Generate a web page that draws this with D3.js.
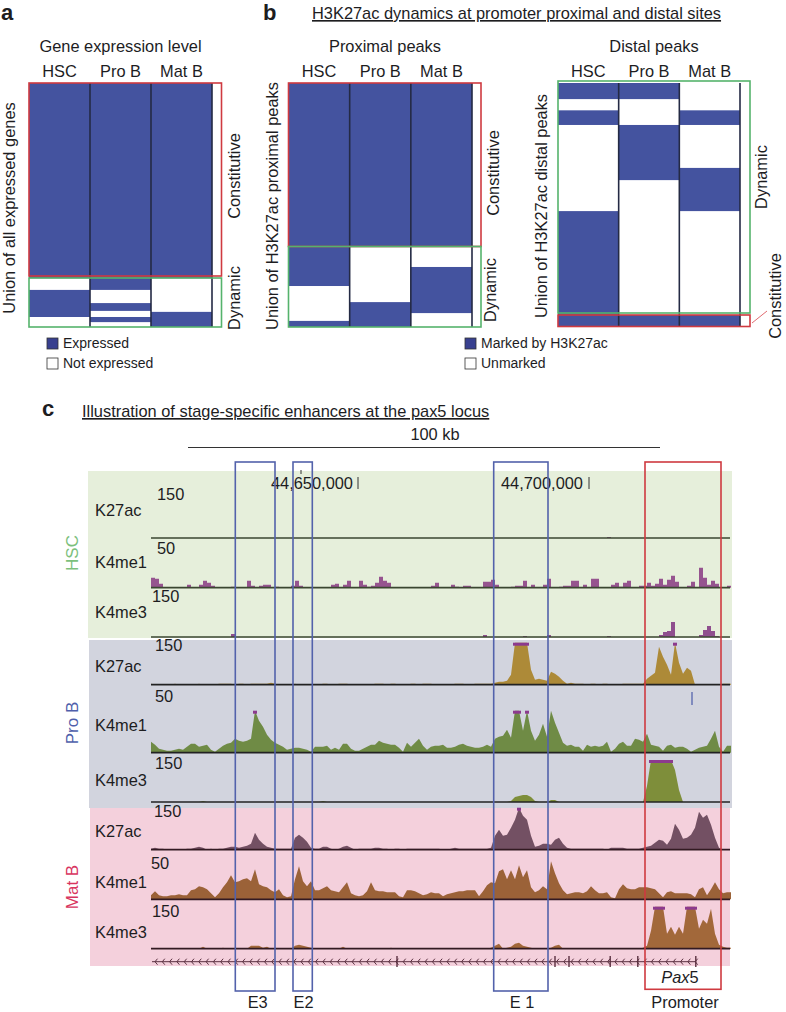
<!DOCTYPE html>
<html><head><meta charset="utf-8">
<script src="https://cdn.jsdelivr.net/npm/d3@7"></script>
<style>html,body{margin:0;padding:0;background:#fff}svg{display:block}text{font-family:"Liberation Sans",Arial,sans-serif;fill:#1d1d1f}</style>
</head><body><svg id="c" width="786" height="1012"></svg>
<script>
const stages = ["HSC","Pro B","Mat B"];
// marked intervals, percent of the matrix height, per stage
const exprHSC = [[0,80],[84.8,95.9]];
const exprProB = [[0,84.8],[90.2,93.4],[95.9,98]];
const exprMatB = [[0,80],[93.8,100]];
const proxHSC = [[0,83.2],[97.5,100]];
const proxProB = [[0,67.2],[89.8,100]];
const proxMatB = [[0,67.2],[75.4,94.3]];
const distHSC = [[0,6.6],[11.2,17.2],[52.5,100]];
const distProB = [[0,6.6],[17.2,39.8],[95.1,100]];
const distMatB = [[11.2,17.2],[34.8,52.5],[95.1,100]];

// signal per genome bin, read on a 0-42 grid (42 = top of the track; above it the track is capped)
const hscK27ac = [
0,0,0,0,0,0,0,0,0,0, 0,0,0,0,0,0,0,0,0,0, 0,0,0,0,0,0,0,0,0,0, 0,0,0,0,0,0,0,0,0,0,
0,0,0,0,0,0,0,0,0,0, 0,0,0,0,0,0,0,0,0,0, 0,0,0,0,0,0,0,0,0,0, 0,0,0,0,0,0,0,0,0,0,
0,0,0,0,0,0,0,0,0,0, 0,0,0,0,0,0,0,0,0,0, 0,0,0,0,0,0,0,0,0,0, 0,0,0,0,1,0,0,0,0,0,
0,0,0,0,0,0,0,0,0,0, 0,0,0,0,0,0,0,0,0,0, 0,0,0,0,0];
const hscK4me1 = [
10,9,4,0,0,0,0,0,0,3, 0,0,3,7,5,2,0,0,0,0, 1,0,0,0,7,2,0,2,3,3, 0,1,0,0,0,2,7,2,0,0,
0,0,0,0,0,3,4,0,3,7, 0,0,7,3,1,2,5,11,7,5, 0,0,0,0,0,0,0,0,0,0, 2,5,0,0,0,3,1,0,2,2,
0,0,0,6,6,8,3,0,0,0, 1,2,2,7,0,3,0,0,3,9, 0,0,1,2,2,7,7,0,3,0, 9,9,0,0,0,3,5,1,5,7,
0,0,2,2,5,2,4,9,3,8, 12,6,0,0,2,6,0,20,10,3, 7,4,0,0,2];
const hscK4me3 = [
0,0,0,0,0,0,0,0,0,0, 0,0,0,0,0,0,0,0,0,0, 3,0,0,0,0,0,0,0,0,0, 0,0,0,0,0,0,0,0,0,0,
0,0,0,0,0,0,0,0,0,0, 0,0,0,0,0,0,0,0,0,0, 0,0,0,0,0,0,0,0,0,0, 0,0,0,0,0,0,0,0,0,0,
0,0,0,2,0,0,0,0,0,0, 0,0,0,1,0,0,0,0,0,2, 0,0,0,0,0,0,0,0,0,0, 0,0,0,0,1,0,0,0,0,0,
0,0,0,0,0,0,0,2,5,6, 15,0,0,0,0,0,0,2,7,11, 6,1,0,0,0];
const proK27ac = [
1,0,0,0,0,0,1,0,0,0, 0,0,1,0,0,0,0,1,1,1, 1,0,1,1,0,1,1,1,1,1, 2,1,0,0,0,0,1,0,0,0,
0,0,0,1,1,0,0,1,1,1, 0,0,0,0,0,0,1,1,1,0, 1,1,0,0,0,1,1,0,1,1, 1,0,0,0,0,0,1,1,1,0,
0,1,1,1,1,1,2,3,3,4, 10,43,43,43,43,15,5,6,5,4, 13,11,8,4,1,2,1,1,1,0, 1,1,0,1,1,0,0,0,1,1,
1,1,1,1,6,9,12,38,28,20, 10,43,22,11,17,14,0,0,0,0, 0,0,0,1,1];
const proK4me1 = [
11,8,4,3,2,2,3,4,3,6, 9,9,6,7,8,3,1,4,7,9, 10,14,12,11,12,14,43,32,26,18, 13,10,8,6,3,4,5,5,4,3,
1,6,6,6,7,3,5,3,9,9, 4,2,2,4,6,8,8,12,10,9, 8,8,5,1,10,6,10,14,7,3, 6,7,7,8,5,5,6,8,9,7,
6,5,5,6,8,6,14,16,17,23, 15,43,43,22,43,22,12,18,29,16, 42,30,20,10,7,8,6,6,2,8, 6,7,6,7,11,1,4,9,11,7,
7,14,13,11,19,8,7,6,2,7, 8,5,6,6,4,1,3,5,6,7, 14,22,6,1,7];
const proK4me3 = [
0,0,0,0,0,0,0,0,0,0, 0,0,0,1,0,0,0,0,0,0, 0,0,0,0,0,0,0,0,0,0, 0,0,0,0,0,0,0,0,0,0,
0,0,0,1,0,0,0,0,0,0, 0,0,0,0,0,0,0,0,0,0, 0,0,0,0,0,0,0,0,0,0, 0,0,0,0,0,0,0,0,0,0,
0,0,0,0,0,0,0,0,0,0, 1,5,6,7,7,5,1,0,0,0, 2,2,0,0,0,0,0,0,0,0, 0,0,0,0,0,0,0,0,0,0,
0,0,0,0,16,43,43,43,43,43, 43,32,12,0,0,0,0,0,0,0, 0,0,0,0,0];
const matK27ac = [
1,2,1,1,0,0,0,0,0,1, 1,2,3,2,0,1,0,1,1,2, 3,3,2,3,4,6,17,10,6,3, 2,1,1,1,1,1,12,15,12,8,
2,1,1,3,3,1,0,1,3,4, 2,0,1,1,1,1,2,2,1,1, 0,1,1,0,1,1,1,1,1,1, 1,1,1,0,0,1,2,1,1,1,
1,1,1,1,1,2,14,20,14,15, 22,30,43,34,30,14,3,4,6,6, 5,10,12,6,2,1,1,1,1,1, 1,1,1,1,0,2,2,2,2,1,
1,1,1,2,3,4,7,10,9,5, 11,26,20,11,12,15,22,38,32,35, 25,12,2,0,0];
const matK4me1 = [
4,8,4,3,3,4,4,5,4,4, 9,10,13,12,10,6,2,6,12,17, 24,17,18,20,21,18,30,15,13,12, 9,7,10,4,2,3,20,33,18,13,
18,9,9,11,13,9,8,7,12,17, 6,4,3,4,8,17,9,8,8,7, 7,7,3,2,9,9,8,6,4,5, 7,6,6,3,5,6,7,8,8,9,
9,9,3,8,14,17,16,28,30,20, 29,20,34,22,29,12,7,9,13,10, 38,26,16,9,5,6,7,7,6,8, 13,9,6,6,7,2,1,10,15,11,
10,10,12,12,12,11,10,6,2,7, 8,6,6,6,6,5,2,10,12,4, 10,17,10,6,7];
const matK4me3 = [
0,0,0,0,0,0,0,0,0,0, 0,0,0,2,0,0,0,0,1,0, 0,0,0,0,0,3,3,3,1,2, 0,0,0,0,0,0,3,4,3,2,
1,0,0,0,0,0,0,0,2,0, 0,0,0,0,0,0,0,0,0,0, 1,0,0,0,0,0,0,0,0,0, 0,0,0,0,0,0,0,0,0,0,
0,0,0,0,0,1,3,5,0,1, 2,5,6,3,2,1,0,0,0,0, 1,3,4,0,0,0,0,0,0,0, 0,0,0,0,0,0,0,0,0,0,
0,0,0,1,3,18,43,43,43,15, 22,14,22,15,43,43,43,20,29,25, 40,15,4,2,1];
const exonBins = [61.5,101,104.5,114.8,121.7,136.2];

const svg = d3.select("#c");
const BLUE="#44539f", DARK="#242a44", RED="#cf3a40", GREEN="#55b36c", BOXB="#5362ab";
const F=16.4;
const txt=(x,y,s,size,o={})=>{const t=svg.append("text").attr("x",x).attr("y",y).attr("font-size",size).attr("text-anchor",o.a||"start").text(s);
 if(o.b)t.attr("font-weight","bold"); if(o.c)t.style("fill",o.c); if(o.i)t.attr("font-style","italic"); if(o.u)t.attr("text-decoration","underline");
 if(o.r)t.attr("transform",`rotate(-90 ${x} ${y})`); return t;};
const box=(x0,y0,x1,y1,c,w=1.6)=>svg.append("rect").attr("x",x0).attr("y",y0).attr("width",x1-x0).attr("height",y1-y0).attr("fill","none").attr("stroke",c).attr("stroke-width",w);

function matrix(x0,x1,cols){
  const x=d3.scaleBand().domain(stages).range([x0,x1]);
  const y=d3.scaleLinear().domain([0,100]).range([83,327]);
  const g=svg.append("g");
  stages.forEach((s,i)=>{
    g.selectAll(null).data(cols[i]).join("rect").attr("x",x(s)).attr("width",x.bandwidth())
     .attr("y",d=>y(d[0])).attr("height",d=>y(d[1])-y(d[0])).attr("fill",BLUE);
    txt(x(s)+x.bandwidth()/2,77,s,F,{a:"middle"});
  });
  g.selectAll(null).data(stages.slice(1).map(s=>x(s)).concat(x1)).join("line")
   .attr("x1",d=>d).attr("x2",d=>d).attr("y1",83).attr("y2",327).attr("stroke",DARK).attr("stroke-width",1.6);
}
matrix(29,212,[exprHSC,exprProB,exprMatB]);
matrix(288.5,472,[proxHSC,proxProB,proxMatB]);
matrix(558,740,[distHSC,distProB,distMatB]);

box(29,83,221.5,276,RED); box(29,278,221.5,327,GREEN);
box(288.5,83,481,246.5,RED); box(288.5,246.5,481,327,GREEN);
box(558,81,750,313,GREEN); box(558,315,750,326.5,RED);
svg.append("line").attr("x1",752).attr("y1",323).attr("x2",767).attr("y2",311).attr("stroke","#e06a70").attr("stroke-width",1);

txt(1,20,"a",22,{b:1}); txt(263,20,"b",22,{b:1}); txt(42,416,"c",22,{b:1});
txt(120.5,52,"Gene expression level",F,{a:"middle"});
txt(385,52,"Proximal peaks",F,{a:"middle"});
txt(654,52,"Distal peaks",F,{a:"middle"});
txt(312,19,"H3K27ac dynamics at promoter proximal and distal sites",F,{u:1});
txt(82,417,"Illustration of stage-specific enhancers at the pax5 locus",F,{u:1});
txt(15,208,"Union of all expressed genes",F,{a:"middle",r:1});
txt(240,176,"Constitutive",F,{a:"middle",r:1});
txt(240,298,"Dynamic",F,{a:"middle",r:1});
txt(278,206,"Union of H3K27ac proximal peaks",F,{a:"middle",r:1});
txt(499,173,"Constitutive",F,{a:"middle",r:1});
txt(496,290,"Dynamic",F,{a:"middle",r:1});
txt(547,206,"Union of H3K27ac distal peaks",F,{a:"middle",r:1});
txt(767,177,"Dynamic",F,{a:"middle",r:1});
txt(781,296,"Constitutive",F,{a:"middle",r:1});

[[47,63,"Expressed","Not expressed"],[465,481,"Marked by H3K27ac","Unmarked"]].forEach(([a,b,l1,l2])=>{
  svg.append("rect").attr("x",a).attr("y",338).attr("width",11).attr("height",11).attr("fill","#38408f").attr("stroke","#333").attr("stroke-width",.8);
  svg.append("rect").attr("x",a).attr("y",358).attr("width",11).attr("height",11).attr("fill","#fff").attr("stroke","#333").attr("stroke-width",.8);
  txt(b,348,l1,14); txt(b,368,l2,14);
});

// panel c
[[88,471,732,638,"#e6efdb"],[89,640,732,808,"#d2d4de"],[90,808,730,966,"#f4d0dc"]].forEach(r=>
  svg.append("rect").attr("x",r[0]).attr("y",r[1]).attr("width",r[2]-r[0]).attr("height",r[3]-r[1]).attr("fill",r[4]));
const xBin=d3.scaleLinear().domain([0,145]).range([151,731]);
const tracks=[
 {v:hscK27ac,b:538,c:"#8f4f8e",l:"#3a4630",s:1},{v:hscK4me1,b:587.7,c:"#96548f",l:"#3a4630",s:1},{v:hscK4me3,b:637,c:"#8f4f8e",l:"#3a4630",s:1},
 {v:proK27ac,b:684.7,c:"#ad8a38",l:"#222"},{v:proK4me1,b:752.7,c:"#6f8b45",l:"#222"},{v:proK4me3,b:802,c:"#7e8e3a",l:"#222"},
 {v:matK27ac,b:849.7,c:"#735063",l:"#321a22"},{v:matK4me1,b:899.3,c:"#9b6238",l:"#321a22"},{v:matK4me3,b:948.7,c:"#a2683a",l:"#321a22"}];
tracks.forEach(t=>{
  const y=d3.scaleLinear().domain([0,42]).range([t.b,t.b-42]);
  const pts=t.v.concat(t.v[t.v.length-1]);
  svg.append("path").attr("fill",t.c).attr("d",d3.area().curve(t.s?d3.curveStepAfter:d3.curveLinear).x((d,i)=>xBin(i)).y0(t.b).y1(d=>y(Math.min(d,42)))(pts));
  svg.selectAll(null).data(t.v.map((d,i)=>[d,i]).filter(d=>d[0]>42)).join("rect")
    .attr("x",d=>xBin(d[1])-2).attr("width",xBin(1)-xBin(0)).attr("y",y(42)).attr("height",3).attr("fill","#8c3a8e");
  svg.append("line").attr("x1",151).attr("x2",730).attr("y1",t.b).attr("y2",t.b).attr("stroke",t.l).attr("stroke-width",1.7);
});
[["K27ac",516],["K4me1",568],["K4me3",618],["K27ac",672],["K4me1",731],["K4me3",786],["K27ac",837],["K4me1",888],["K4me3",938]]
  .forEach(d=>txt(95,d[1],d[0],F));
[[157,500,"150"],[157,554,"50"],[152,602,"150"],[155,651,"150"],[155,702,"50"],[155,769,"150"],[154,817,"150"],[151,869,"50"],[152,917,"150"]]
  .forEach(d=>txt(d[0],d[1],d[2],F));
txt(78,553,"HSC",17,{a:"middle",r:1,c:"#7cc07c"});
txt(78,723,"Pro B",17,{a:"middle",r:1,c:"#4f5fab"});
txt(78,887,"Mat B",17,{a:"middle",r:1,c:"#d8355f"});

// gene model
const gene=svg.append("g").attr("stroke","#5a3040").attr("fill","none").attr("stroke-width",1);
gene.append("line").attr("x1",152).attr("x2",696).attr("y1",961.7).attr("y2",961.7);
gene.selectAll(null).data(d3.range(155,696,7.3)).join("path").attr("d",d=>`M${d+2.5},958.7L${d},961.7L${d+2.5},964.7`);
gene.selectAll(null).data(exonBins).join("line").attr("x1",d=>xBin(d)).attr("x2",d=>xBin(d)).attr("y1",956).attr("y2",967).attr("stroke-width",1.4);

// scale and coordinates
svg.append("line").attr("x1",188).attr("x2",660).attr("y1",447.5).attr("y2",447.5).attr("stroke","#333").attr("stroke-width",1);
txt(435,440,"100 kb",F,{a:"middle"});
txt(353,489,"44,650,000",F,{a:"end"});
txt(583,489,"44,700,000",F,{a:"end"});
[[358,477,489],[589,477,489],[301,470,474]].forEach(d=>svg.append("line").attr("x1",d[0]).attr("x2",d[0]).attr("y1",d[1]).attr("y2",d[2]).attr("stroke","#333").attr("stroke-width",1));
svg.append("line").attr("x1",692).attr("x2",692).attr("y1",692).attr("y2",705).attr("stroke","#4a5aa8").attr("stroke-width",1.2);

box(235.3,462,275,991,BOXB); box(293,462,312.3,991,BOXB); box(493.7,462,548,991,BOXB); box(645,462,721,989.3,RED);
txt(257.7,1008,"E3",F,{a:"middle"}); txt(303.5,1008,"E2",F,{a:"middle"}); txt(522,1008,"E 1",F,{a:"middle"});
txt(685,1008,"Promoter",F,{a:"middle"});
const px=txt(680,982.6,"",F,{a:"middle"});
px.append("tspan").attr("font-style","italic").text("Pax"); px.append("tspan").text("5");
</script></body></html>
